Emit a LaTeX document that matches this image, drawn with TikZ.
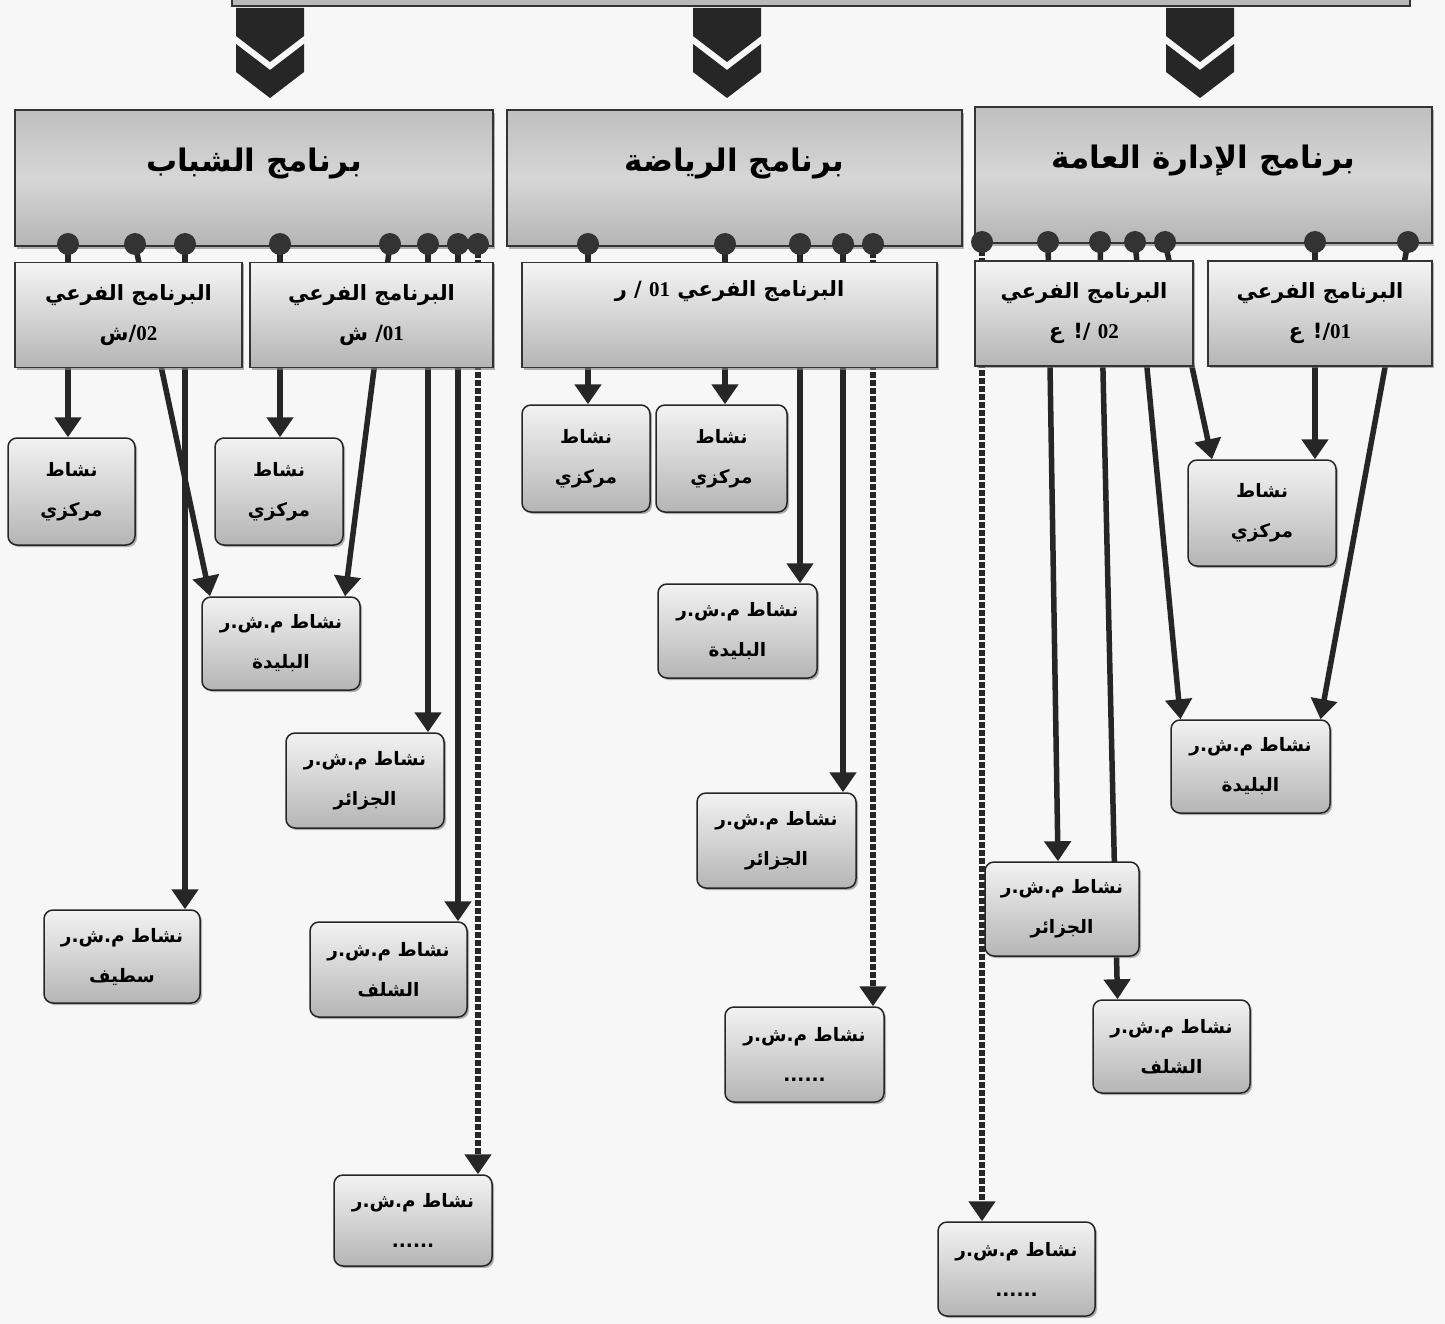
\documentclass[tikz,border=0pt]{standalone}
\usepackage{fontspec}
\newfontfamily\arabicfont[Script=Arabic]{DejaVu Sans}
\newfontfamily\numfont{Liberation Serif}
\TeXXeTstate=1
\usetikzlibrary{arrows.meta,positioning,shadows}
\pgfdeclarelayer{back}
\pgfdeclarelayer{links}
\pgfsetlayers{back,links,main}
\newcommand\ar[1]{{\arabicfont\bfseries\beginR #1\endR}}
\newcommand\nm[1]{\beginL{\numfont\bfseries #1}\endL{}}

\begin{document}
\begin{tikzpicture}[x=1pt, y=-1pt,
    prog/.style={
        draw=black!80, line width=1.5pt,
        top color=gray!50, bottom color=gray!58, middle color=gray!32,
        minimum height=136pt, inner sep=0pt,
        text height=24pt, text depth=36pt,
        font=\fontsize{31}{36}\selectfont,
        drop shadow={shadow xshift=2pt, shadow yshift=-3pt, opacity=.6}
    },
    sub/.style={
        draw=black!80, line width=1.2pt,
        top color=gray!8, bottom color=gray!58,
        minimum height=105pt, inner sep=0pt, align=center,
        font=\fontsize{21}{40}\selectfont,
        drop shadow={shadow xshift=2pt, shadow yshift=-2pt, opacity=.6}
    },
    act/.style={
        draw=black!85, line width=1.5pt, rounded corners=9pt,
        top color=gray!10, bottom color=gray!58,
        inner sep=0pt, align=center,
        font=\fontsize{18.5}{40}\selectfont,
        drop shadow={shadow xshift=2pt, shadow yshift=-2pt, opacity=.6}
    },
    dot/.style={circle, fill=black!80, minimum size=22pt, inner sep=0pt},
    link/.style={line width=5.5pt, draw=black!85, -{Triangle[width=26pt,length=20pt]}},
    dlink/.style={link, line width=6pt, dash pattern=on 6pt off 2pt}
    ]

    \useasboundingbox (0,0) rectangle (1445,1324);

    \begin{pgfonlayer}{back}
    \fill[black!3] (0,0) rectangle (1445,1324);
    \draw[fill=gray!55, draw=black!80, line width=2pt] (232,-10) rectangle (1410,6);
    % double chevrons
    \foreach \cx in {270,727,1200} {
        \fill[black!85] (\cx-34,8) -- (\cx+34,8) -- (\cx+34,36) -- (\cx,62) -- (\cx-34,36) -- cycle;
        \fill[black!85] (\cx-34,44) -- (\cx,70) -- (\cx+34,44) -- (\cx+34,72) -- (\cx,98) -- (\cx-34,72) -- cycle;
    }
    \node[prog, minimum width=478pt] (ProgYouth) at (254,178) {\ar{برنامج الشباب}};
    \node[prog, minimum width=455pt] (ProgSport) at (734.5,178) {\ar{برنامج الرياضة}};
    \node[prog, minimum width=457pt] (ProgAdmin) at (1203.5,175) {\ar{برنامج الإدارة العامة}};
    \end{pgfonlayer}

    \node[sub, minimum width=227pt] (SubY2) at (128.5,315) {\ar{البرنامج الفرعي}\\\ar{\nm{02}/ش}};
    \node[sub, minimum width=243pt] (SubY1) at (371.5,315) {\ar{البرنامج الفرعي}\\\ar{\nm{01}/ ش}};
    \node[sub, minimum width=415pt] (SubS1) at (729.5,315) {\ar{البرنامج الفرعي \nm{01} / ر}\\\strut};
    \node[sub, minimum width=218pt] (SubA2) at (1084,313.5) {\ar{البرنامج الفرعي}\\\ar{\nm{02} /! ع}};
    \node[sub, minimum width=224pt] (SubA1) at (1320,313.5) {\ar{البرنامج الفرعي}\\\ar{\nm{01}/! ع}};

    \foreach \x [count=\i] in {68,135,185,280,390,428,458,478}
        \node[dot] (dY\i) at (\x,244) {};
    \foreach \x [count=\i] in {588,725,800,843,873}
        \node[dot] (dS\i) at (\x,244) {};
    \foreach \x [count=\i] in {982,1048,1100,1135,1165,1315,1408}
        \node[dot] (dA\i) at (\x,242) {};

    % youth
    \node[act, minimum width=127pt, minimum height=107pt] (ActY1) at (71.5,491.5) {\ar{نشاط}\\\ar{مركزي}};
    \node[act, minimum width=128pt, minimum height=107pt] (ActY2) at (279,491.5) {\ar{نشاط}\\\ar{مركزي}};
    \node[act, minimum width=158pt, minimum height=93pt] (ActY3) at (281,643.5) {\ar{نشاط م.ش.ر}\\\ar{البليدة}};
    \node[act, minimum width=158pt, minimum height=95pt] (ActY4) at (365,780.5) {\ar{نشاط م.ش.ر}\\\ar{الجزائر}};
    \node[act, minimum width=156pt, minimum height=93pt] (ActY5) at (122,956.5) {\ar{نشاط م.ش.ر}\\\ar{سطيف}};
    \node[act, minimum width=157pt, minimum height=95pt] (ActY6) at (388.5,969.5) {\ar{نشاط م.ش.ر}\\\ar{الشلف}};
    \node[act, minimum width=158pt, minimum height=91pt] (ActY7) at (413,1220.5) {\ar{نشاط م.ش.ر}\\\ar{......}};
    % sport
    \node[act, minimum width=128pt, minimum height=107pt] (ActS1) at (586,458.5) {\ar{نشاط}\\\ar{مركزي}};
    \node[act, minimum width=131pt, minimum height=107pt] (ActS2) at (721.5,458.5) {\ar{نشاط}\\\ar{مركزي}};
    \node[act, minimum width=159pt, minimum height=94pt] (ActS3) at (737.5,631) {\ar{نشاط م.ش.ر}\\\ar{البليدة}};
    \node[act, minimum width=159pt, minimum height=95pt] (ActS4) at (776.5,840.5) {\ar{نشاط م.ش.ر}\\\ar{الجزائر}};
    \node[act, minimum width=159pt, minimum height=95pt] (ActS5) at (804.5,1054.5) {\ar{نشاط م.ش.ر}\\\ar{......}};
    % admin
    \node[act, minimum width=148pt, minimum height=106pt] (ActA1) at (1262,513) {\ar{نشاط}\\\ar{مركزي}};
    \node[act, minimum width=159pt, minimum height=93pt] (ActA2) at (1250.5,766.5) {\ar{نشاط م.ش.ر}\\\ar{البليدة}};
    \node[act, minimum width=154pt, minimum height=94pt] (ActA3) at (1062,909) {\ar{نشاط م.ش.ر}\\\ar{الجزائر}};
    \node[act, minimum width=157pt, minimum height=93pt] (ActA4) at (1171.5,1046.5) {\ar{نشاط م.ش.ر}\\\ar{الشلف}};
    \node[act, minimum width=157pt, minimum height=94pt] (ActA5) at (1016.5,1269) {\ar{نشاط م.ش.ر}\\\ar{......}};

    \begin{pgfonlayer}{links}
    \draw[link] (dY1.center) -- (dY1 |- ActY1.north);
    \draw[link] (dY2.center) -- ([xshift=-71pt]ActY3.north);
    \draw[link] (dY3.center) -- (dY3 |- ActY5.north);
    \draw[link] (dY4.center) -- (dY4 |- ActY2.north);
    \draw[link] (dY5.center) -- ([xshift=64pt]ActY3.north);
    \draw[link] (dY6.center) -- (dY6 |- ActY4.north);
    \draw[link] (dY7.center) -- (dY7 |- ActY6.north);
    \draw[dlink] (dY8.center) -- (dY8 |- ActY7.north);

    \draw[link] (dS1.center) -- (dS1 |- ActS1.north);
    \draw[link] (dS2.center) -- (dS2 |- ActS2.north);
    \draw[link] (dS3.center) -- (dS3 |- ActS3.north);
    \draw[link] (dS4.center) -- (dS4 |- ActS4.north);
    \draw[dlink] (dS5.center) -- (dS5 |- ActS5.north);

    \draw[dlink] (dA1.center) -- (dA1 |- ActA5.north);
    \draw[link] (dA2.center) -- ([xshift=-4pt]ActA3.north);
    \draw[link] (dA3.center) -- ([xshift=-54pt]ActA4.north);
    \draw[link] (dA4.center) -- ([xshift=-70pt]ActA2.north);
    \draw[link] (dA5.center) -- ([xshift=-50pt]ActA1.north);
    \draw[link] (dA6.center) -- (dA6 |- ActA1.north);
    \draw[link] (dA7.center) -- ([xshift=70pt]ActA2.north);
    \end{pgfonlayer}
\end{tikzpicture}
\end{document}
